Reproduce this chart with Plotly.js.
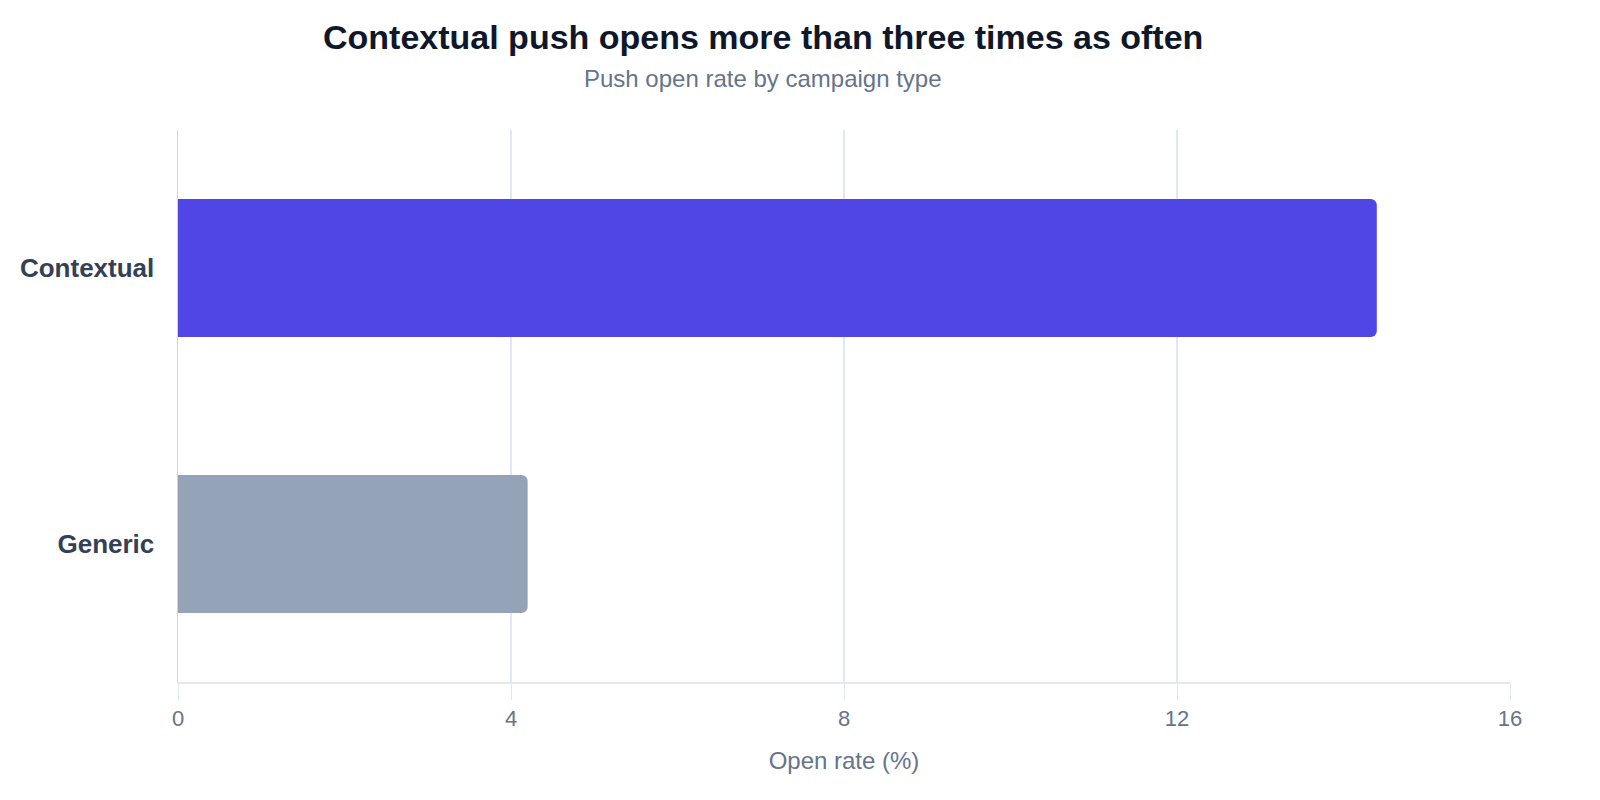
<!DOCTYPE html>
<html>
<head>
<meta charset="utf-8">
<script src="https://cdn.plot.ly/plotly-3.0.1.min.js"></script>
<style>
  html, body { margin: 0; padding: 0; background: #ffffff; }
  #chart { width: 1600px; height: 800px; }
</style>
</head>
<body>
<div id="chart"></div>
<script>
// campaign types, top to bottom
var campaigns = ['Contextual', 'Generic'];
var openRates = [14.4, 4.2];
var barColors = ['#4f46e5', '#94a3b8'];
var xTicks = [0, 4, 8, 12, 16];

var trace = {
  type: 'bar',
  orientation: 'h',
  y: campaigns,
  x: openRates,
  marker: {
    color: barColors,
    cornerradius: 6
  },
  hoverinfo: 'none'
};

var layout = {
  width: 1600,
  height: 800,
  margin: {l: 178, r: 90, t: 130, b: 118},
  paper_bgcolor: '#ffffff',
  plot_bgcolor: '#ffffff',
  font: {family: '"Liberation Sans", Arial, sans-serif', color: '#64748b'},
  title: {
    text: '<b>Contextual push opens more than three times as often</b>',
    font: {size: 34, color: '#0f172a'},
    x: 0.477,
    xref: 'container',
    xanchor: 'center',
    y: 1 - 37 / 800,
    yref: 'container',
    yanchor: 'middle'
  },
  // subtitle as an annotation so it sits closer to the title
  annotations: [{
    text: 'Push open rate by campaign type',
    font: {size: 24, color: '#64748b'},
    xref: 'paper',
    yref: 'paper',
    x: (0.477 * 1600 - 178) / (1600 - 178 - 90),
    y: 1 + (130 - 79) / (800 - 130 - 118),
    xanchor: 'center',
    yanchor: 'middle',
    showarrow: false
  }],
  bargap: 0.5,
  showlegend: false,
  xaxis: {
    range: [0, 16],
    tickvals: xTicks,
    ticks: 'outside',
    ticklen: 16,
    tickcolor: '#e2e8f0',
    tickfont: {size: 22, color: '#64748b'},
    showgrid: true,
    gridcolor: '#e2e8f0',
    gridwidth: 1.5,
    zeroline: false,
    showline: true,
    linecolor: '#e2e8f0',
    linewidth: 1.5,
    title: {
      text: 'Open rate (%)',
      font: {size: 24, color: '#64748b'},
      standoff: 22
    },
    fixedrange: true
  },
  yaxis: {
    autorange: 'reversed',
    ticks: '',
    ticklabelstandoff: 17,
    tickfont: {size: 26, color: '#334155', weight: 'bold'},
    showgrid: false,
    zeroline: false,
    showline: true,
    linecolor: '#cbd5e1',
    linewidth: 1.5,
    fixedrange: true
  }
};

Plotly.newPlot('chart', [trace], layout, {displayModeBar: false, staticPlot: true});
</script>
</body>
</html>
